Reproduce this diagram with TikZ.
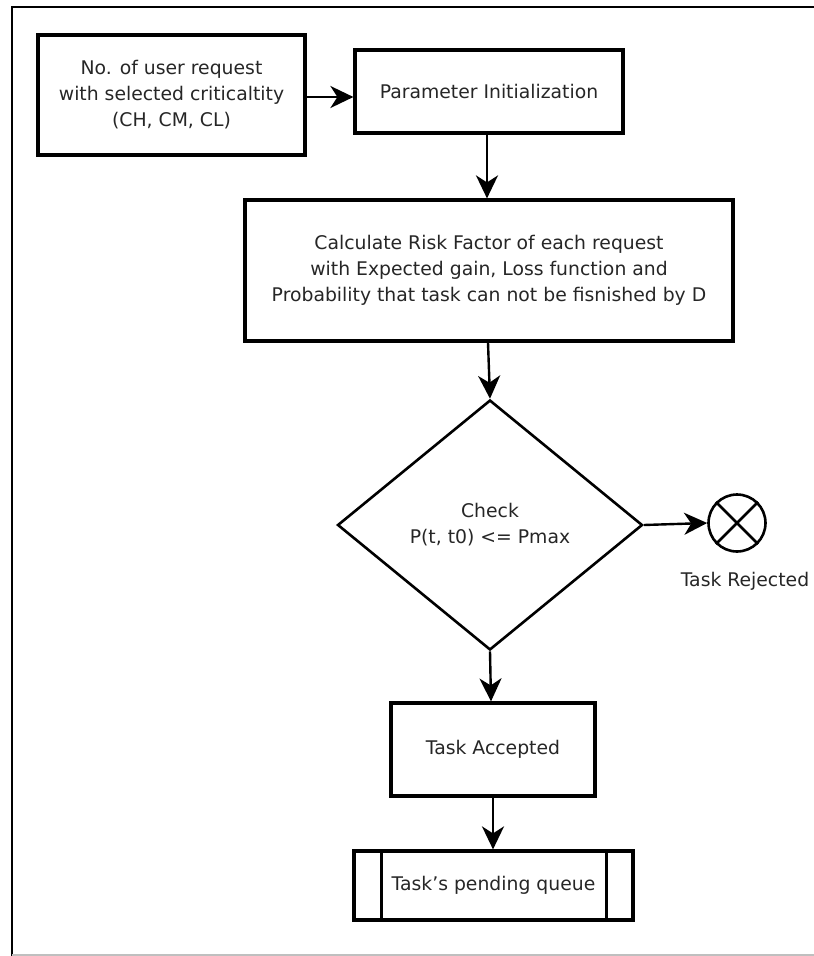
\documentclass[tikz,border=0pt]{standalone}
\usepackage{fontspec}
\setmainfont{DejaVu Sans}
\usetikzlibrary{arrows.meta,shapes.geometric}
\begin{document}
\begin{tikzpicture}[x=1pt,y=-1pt,
  box/.style={draw,line width=3.2pt,rectangle,align=center,inner sep=0pt},
  conn/.style={line width=2.4pt,-{Stealth[length=23pt,width=22pt,inset=7pt]}},
  txt/.style={font=\fontsize{18.8}{26}\selectfont,text=black!85}]
\useasboundingbox (0,0) rectangle (814,956);
% frame
\draw[line width=2.8pt] (830,7) -- (12,7) -- (12,960);
\draw[line width=1.4pt,black!25] (12,955) -- (830,955);
% nodes
\node[box,txt,minimum width=267pt,minimum height=120pt] (req) at (171.5,95)
  {No. of user request\\with selected criticaltity\\(CH, CM, CL)};
\node[box,txt,minimum width=268pt,minimum height=83pt] (init) at (489,91.5)
  {Parameter Initialization};
\node[box,txt,minimum width=488pt,minimum height=141pt] (risk) at (489,270.5)
  {Calculate Risk Factor of each request\\with Expected gain, Loss function and\\Probability that task can not be fisnished by D};
\node[draw,line width=2.6pt,diamond,txt,minimum width=305pt,minimum height=250pt,inner sep=0pt,align=center] (chk) at (490,525)
  {Check\\P(t, t0) <= Pmax};
\node[draw,line width=2.6pt,circle,minimum size=57pt,inner sep=0pt] (rej) at (737,523) {};
\draw[line width=2.6pt] (rej.north west) -- (rej.south east) (rej.north east) -- (rej.south west);
\node[txt,anchor=center] (rejl) at (745,581) {Task Rejected};
\node[box,txt,minimum width=204pt,minimum height=93pt] (acc) at (493,749.5)
  {Task Accepted};
\node[box,txt,minimum width=279pt,minimum height=69pt] (queue) at (493.5,885.5)
  {Task's pending queue};
\draw[line width=3.2pt] ([xshift=29pt]queue.north west) -- ([xshift=29pt]queue.south west)
  ([xshift=-28pt]queue.north east) -- ([xshift=-28pt]queue.south east);
% connectors
\draw[conn] (req.east |- 0,97) -- (init.west |- 0,97);
\draw[conn] (init.south -| 487,0) -- (risk.north -| 487,0);
\draw[conn] (risk.south -| 488,0) -- (chk.north);
\draw[conn] (chk.east) -- (rej.west);
\draw[conn] (chk.south) -- (acc.north -| 491,0);
\draw[conn] (acc.south -| 493,0) -- (queue.north -| 493,0);
\end{tikzpicture}
\end{document}
